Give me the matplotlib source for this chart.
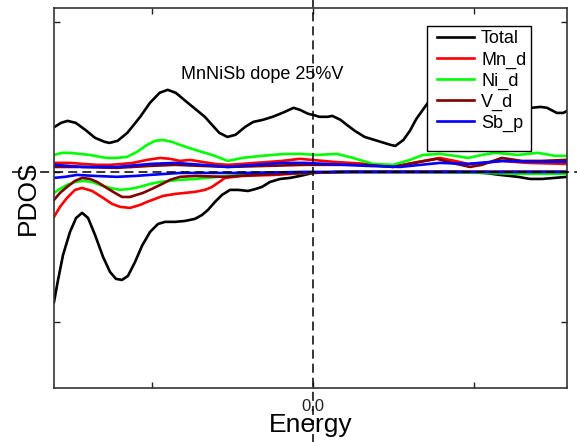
import numpy as np
import matplotlib
matplotlib.use('Agg')
import matplotlib.pyplot as plt
from matplotlib.patches import Rectangle

plt.rcParams['font.family'] = ['Liberation Sans', 'DejaVu Sans']

# Total DOS (spin up / spin down)
total_up_e = [-1.60, -1.56, -1.52, -1.47, -1.41, -1.35, -1.29, -1.26, -1.21, -1.15, -1.07, -1.01, -0.95, -0.90,
              -0.85, -0.79, -0.73, -0.67, -0.62, -0.58, -0.53, -0.48, -0.42, -0.37, -0.31, -0.25, -0.19, -0.12,
              -0.08, -0.03, 0.00, 0.04, 0.09, 0.12, 0.17, 0.21, 0.26, 0.32, 0.42, 0.48, 0.51, 0.56, 0.60, 0.64,
              0.68, 0.72, 0.82, 0.94, 1.10, 1.25, 1.35, 1.41, 1.45, 1.51, 1.55, 1.575]
total_up = [0.300, 0.327, 0.340, 0.327, 0.280, 0.227, 0.200, 0.193, 0.207, 0.260, 0.367, 0.460, 0.527, 0.547,
            0.527, 0.473, 0.420, 0.367, 0.307, 0.260, 0.233, 0.247, 0.300, 0.333, 0.347, 0.367, 0.393, 0.427,
            0.413, 0.387, 0.380, 0.367, 0.367, 0.373, 0.347, 0.313, 0.273, 0.233, 0.200, 0.180, 0.173, 0.213,
            0.273, 0.353, 0.413, 0.473, 0.513, 0.480, 0.447, 0.427, 0.427, 0.433, 0.427, 0.393, 0.393, 0.407]

total_dn_e = [-1.604, -1.579, -1.548, -1.505, -1.467, -1.430, -1.393, -1.350, -1.300, -1.257, -1.220, -1.183,
              -1.146, -1.102, -1.059, -1.009, -0.960, -0.916, -0.854, -0.793, -0.731, -0.687, -0.650, -0.607,
              -0.563, -0.514, -0.464, -0.402, -0.353, -0.316, -0.266, -0.204, -0.142, -0.080, 0.0, 0.167,
              0.539, 0.910, 1.065, 1.158, 1.269, 1.344, 1.418, 1.498, 1.573]
total_dn = [-0.867, -0.720, -0.553, -0.400, -0.307, -0.273, -0.307, -0.420, -0.567, -0.667, -0.713, -0.720,
            -0.693, -0.600, -0.493, -0.400, -0.347, -0.333, -0.333, -0.327, -0.313, -0.287, -0.253, -0.200,
            -0.153, -0.120, -0.120, -0.127, -0.113, -0.100, -0.067, -0.047, -0.040, -0.027, -0.007, 0.0,
            0.0, 0.0, -0.007, -0.020, -0.033, -0.047, -0.047, -0.040, -0.033]

# Mn d
mn_up_e = [-1.604, -1.505, -1.424, -1.337, -1.257, -1.183, -1.115, -1.028, -0.947, -0.885, -0.824, -0.762,
           -0.687, -0.607, -0.526, -0.440, -0.359, -0.266, -0.192, -0.080, 0.124, 0.334, 0.495, 0.619, 0.786,
           0.879, 0.960, 1.065, 1.170, 1.331, 1.573]
mn_up = [0.060, 0.060, 0.053, 0.047, 0.047, 0.053, 0.060, 0.080, 0.093, 0.087, 0.073, 0.080, 0.067, 0.053,
         0.047, 0.053, 0.060, 0.067, 0.073, 0.087, 0.067, 0.053, 0.033, 0.060, 0.093, 0.073, 0.053, 0.060,
         0.073, 0.060, 0.053]
mn_dn_e = [-1.604, -1.567, -1.523, -1.474, -1.430, -1.368, -1.300, -1.245, -1.195, -1.133, -1.071, -1.028,
           -0.978, -0.929, -0.854, -0.731, -0.669, -0.625, -0.588, -0.545, -0.440, -0.235, -0.050, 0.167, 1.573]
mn_dn = [-0.300, -0.233, -0.173, -0.120, -0.107, -0.127, -0.173, -0.213, -0.233, -0.240, -0.220, -0.200,
         -0.180, -0.160, -0.147, -0.133, -0.120, -0.100, -0.073, -0.040, -0.027, -0.020, -0.007, 0.0, 0.0]

# Ni d
ni_up_e = [-1.604, -1.554, -1.505, -1.443, -1.381, -1.319, -1.276, -1.214, -1.152, -1.090, -1.028, -0.978,
           -0.929, -0.873, -0.824, -0.731, -0.625, -0.526, -0.440, -0.316, -0.173, -0.080, 0.025, 0.149,
           0.248, 0.372, 0.495, 0.601, 0.681, 0.786, 0.879, 0.960, 1.046, 1.127, 1.269, 1.393, 1.498, 1.573]
ni_up = [0.113, 0.127, 0.127, 0.120, 0.113, 0.100, 0.093, 0.093, 0.100, 0.133, 0.180, 0.207, 0.213, 0.200,
         0.180, 0.147, 0.113, 0.073, 0.093, 0.107, 0.120, 0.120, 0.113, 0.120, 0.093, 0.053, 0.047, 0.080,
         0.113, 0.120, 0.107, 0.093, 0.113, 0.127, 0.113, 0.127, 0.107, 0.107]
ni_dn_e = [-1.604, -1.567, -1.523, -1.474, -1.424, -1.368, -1.319, -1.257, -1.195, -1.133, -1.071, -1.009,
           -0.947, -0.885, -0.824, -0.731, -0.588, -0.440, -0.316, -0.050, 0.229, 0.663, 1.065, 1.282, 1.573]
ni_dn = [-0.140, -0.113, -0.087, -0.067, -0.060, -0.067, -0.087, -0.107, -0.120, -0.113, -0.100, -0.080,
         -0.067, -0.060, -0.053, -0.047, -0.033, -0.020, -0.007, -0.007, 0.0, 0.0, -0.007, -0.013, -0.013]

# V d
v_up_e = [-1.604, -1.443, -1.214, -1.009, -0.854, -0.526, -0.050, 0.334, 0.495, 0.663, 0.768, 0.861, 0.972,
          1.046, 1.170, 1.294, 1.418, 1.573]
v_up = [0.033, 0.033, 0.027, 0.040, 0.047, 0.033, 0.047, 0.047, 0.033, 0.067, 0.087, 0.060, 0.033, 0.047,
        0.093, 0.073, 0.073, 0.080]
v_dn_e = [-1.604, -1.567, -1.523, -1.474, -1.430, -1.381, -1.337, -1.288, -1.238, -1.183, -1.133, -1.053,
          -0.997, -0.947, -0.885, -0.824, -0.731, -0.545, -0.359, -0.050, 0.229, 1.573]
v_dn = [-0.187, -0.140, -0.100, -0.060, -0.040, -0.047, -0.067, -0.100, -0.133, -0.167, -0.167, -0.140,
        -0.113, -0.087, -0.053, -0.033, -0.027, -0.033, -0.020, -0.007, 0.0, 0.0]

# Sb p
sb_up_e = [-1.604, -1.424, -1.214, -1.009, -0.854, -0.687, -0.526, -0.359, -0.192, -0.050, 0.334, 0.539,
           0.786, 0.960, 1.170, 1.375, 1.573]
sb_up = [0.047, 0.033, 0.033, 0.053, 0.060, 0.047, 0.033, 0.047, 0.060, 0.060, 0.040, 0.033, 0.060, 0.053,
         0.073, 0.067, 0.067]
sb_dn_e = [-1.604, -1.536, -1.461, -1.350, -1.214, -1.102, -1.009, -0.824, -0.650, -0.440, -0.050, 1.573]
sb_dn = [-0.040, -0.033, -0.020, -0.027, -0.033, -0.027, -0.020, -0.007, -0.007, -0.007, 0.0, 0.0]

series = [
    ('Total', 'black', total_up_e, total_up, total_dn_e, total_dn),
    ('Mn_d', '#ff0000', mn_up_e, mn_up, mn_dn_e, mn_dn),
    ('Ni_d', '#00ff00', ni_up_e, ni_up, ni_dn_e, ni_dn),
    ('V_d', '#800000', v_up_e, v_up, v_dn_e, v_dn),
    ('Sb_p', '#0000ff', sb_up_e, sb_up, sb_dn_e, sb_dn),
]

fig = plt.figure(figsize=(5.77, 4.42), dpi=100)
ax = fig.add_axes([0.0936, 0.1222, 0.889, 0.860])

for name, col, xu, yu, xd, yd in series:
    ax.plot(xu, yu, color=col, lw=1.9, label=name, solid_joinstyle='round')
    ax.plot(xd, yd, color=col, lw=1.9, solid_joinstyle='round')

# Fermi level / zero lines, running past the frame
ax.axhline(0, xmin=-0.082, xmax=1.02, color='black', lw=1.1, dashes=(5.9, 3.3), clip_on=False, zorder=6)
ax.axvline(0, ymin=-0.145, ymax=1.025, color='black', lw=1.1, dashes=(5.9, 3.3), clip_on=False, zorder=6)

ax.set_xlim(-1.604, 1.573)
ax.set_ylim(-1.44, 1.093)
ax.set_xticks([-1, 0, 1])
ax.set_xticklabels(['', '0.0', ''])
ax.set_yticks([-1, 0, 1])
ax.set_yticklabels([])
ax.tick_params(direction='in', length=4, width=1, top=True, right=True, labelsize=12, pad=8, colors='#222222')
for sp in ax.spines.values():
    sp.set_linewidth(1.2)
    sp.set_color('#333333')

ax.set_xlabel('Energy', fontsize=19, labelpad=-1)
ax.set_ylabel('PDOS', fontsize=19, labelpad=2)

ax.text(-0.316, 0.647, 'MnNiSb dope 25%V', ha='center', va='center', fontsize=13)

box = Rectangle((0.727, 0.624), 0.2027, 0.329, transform=ax.transAxes, facecolor='white',
                edgecolor='black', lw=1.0, zorder=4.5)
ax.add_patch(box)
ax.legend(loc='upper left', bbox_to_anchor=(0.741, 0.948), borderaxespad=0, frameon=False,
          fontsize=13, handlelength=2.05, handletextpad=0.4, labelspacing=0.22, borderpad=0.15)

fig.savefig('out.png', dpi=100)
